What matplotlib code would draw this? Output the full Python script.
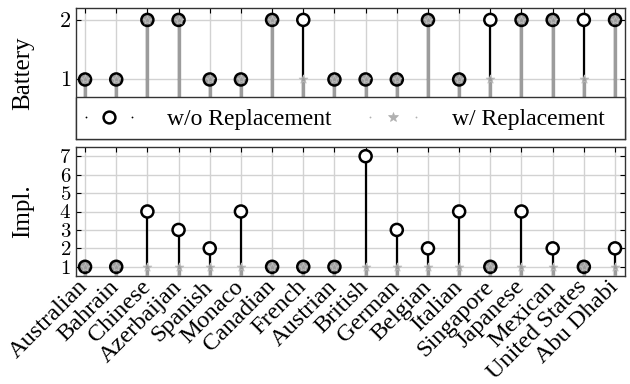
import matplotlib
matplotlib.use("Agg")
import matplotlib.pyplot as plt
import numpy as np
from matplotlib.lines import Line2D
from matplotlib.patches import Rectangle
from matplotlib.legend_handler import HandlerBase

categories = ["Australian", "Bahrain", "Chinese", "Azerbaijan", "Spanish", "Monaco",
              "Canadian", "French", "Austrian", "British", "German", "Belgian",
              "Italian", "Singapore", "Japanese", "Mexican", "United States", "Abu Dhabi"]
battery_wo = [1, 1, 2, 2, 1, 1, 2, 2, 1, 1, 1, 2, 1, 2, 2, 2, 2, 2]
battery_w  = [1, 1, 2, 2, 1, 1, 2, 1, 1, 1, 1, 2, 1, 1, 2, 2, 1, 2]
impl_wo = [1, 1, 4, 3, 2, 4, 1, 1, 1, 7, 3, 2, 4, 1, 4, 2, 1, 2]
impl_w  = [1] * 18
battery_ticks = [1, 2]
impl_ticks = [1, 2, 3, 4, 5, 6, 7]

plt.rcParams['font.family'] = ['Liberation Serif', 'DejaVu Serif']
plt.rcParams['mathtext.fontset'] = 'cm'

GRAY = '#9c9c9c'
GRID = '#d2d2d2'

fig = plt.figure(figsize=(6.3, 3.84), dpi=100)
ax1 = fig.add_axes([76/630, 1-139/384, 549/630, 131/384])
ax2 = fig.add_axes([76/630, 1-276/384, 549/630, 129/384])

x = np.arange(len(categories))


class DotHandler(HandlerBase):
    def __init__(self, dotcolor):
        super().__init__()
        self.dotcolor = dotcolor

    def create_artists(self, legend, orig_handle, xdescent, ydescent, width, height, fontsize, trans):
        y = height / 2 - ydescent
        dots = Line2D([-xdescent, -xdescent + width], [y, y], linestyle='none', marker='o',
                      markersize=1.3, markeredgewidth=0, markerfacecolor=self.dotcolor,
                      transform=trans)
        mk = Line2D([-xdescent + width / 2], [y], linestyle='none',
                    marker=orig_handle.get_marker(), markersize=orig_handle.get_markersize(),
                    markerfacecolor=orig_handle.get_markerfacecolor(),
                    markeredgecolor=orig_handle.get_markeredgecolor(),
                    markeredgewidth=orig_handle.get_markeredgewidth(), transform=trans)
        return [dots, mk]


def panel(ax, wo, w, ylim, yticks):
    wo = np.array(wo)
    w = np.array(w)
    bottom = ylim[0]
    ax.set_xlim(-0.29, len(categories) - 1 + 0.32)
    ax.set_ylim(*ylim)
    ax.set_yticks(yticks)
    ax.set_yticklabels([f"${t}$" for t in yticks])
    ax.set_xticks(x)
    ax.grid(True, color=GRID, linewidth=1.0, zorder=0)
    ax.set_axisbelow(True)
    ax.vlines(x, bottom, wo, color='black', linewidth=1.6, zorder=2)
    ax.vlines(x, bottom, w, color=GRAY, linewidth=2.4, zorder=3)
    face = np.where(wo == w, GRAY, 'white')
    ax.scatter(x, wo, s=75, marker='o', facecolors=face, edgecolors='black',
               linewidths=1.8, zorder=4)
    ax.scatter(x, w, s=42, marker='*', facecolors=GRAY, edgecolors='#bdbdbd',
               linewidths=0.6, zorder=5)
    ax.tick_params(direction='in', top=True, right=True, length=3.5, width=0.8,
                   labelsize=14, colors='black')
    for sp in ax.spines.values():
        sp.set_linewidth(1.0)
        sp.set_color('#333333')


panel(ax1, battery_wo, battery_w, (0, 2.2), battery_ticks)
panel(ax2, impl_wo, impl_w, (0.5, 7.5), impl_ticks)

ax1.set_xticklabels([])
ax2.set_xticklabels(categories, rotation=45, ha='right', va='center',
                    rotation_mode='anchor', fontsize=17.5)
ax2.tick_params(axis='x', pad=5.5)
for lab in ax2.get_yticklabels():
    lab.set_fontsize(15)
for lab in ax1.get_yticklabels():
    lab.set_fontsize(16)

ax1.set_ylabel("Battery", fontsize=18)
ax2.set_ylabel("Impl.", fontsize=18)
ax1.yaxis.set_label_coords(-0.076, 0.5)
ax2.yaxis.set_label_coords(-0.076, 0.5)

# legend box spanning the bottom of the upper panel
box_h = 0.32
ax1.add_patch(Rectangle((0, 0), 1, box_h, transform=ax1.transAxes, facecolor='white',
                        edgecolor='#333333', linewidth=1.0, zorder=9, clip_on=False))

h1 = Line2D([], [], marker='o', markersize=8.5, markerfacecolor='white',
            markeredgecolor='black', markeredgewidth=1.8, linestyle='none')
h2 = Line2D([], [], marker='*', markersize=7, markerfacecolor='#b0b0b0',
            markeredgecolor='#b0b0b0', markeredgewidth=0.5, linestyle='none')
leg = ax1.legend([h1, h2], ["w/o Replacement", "w/ Replacement"], ncol=2,
                 loc='center left', bbox_to_anchor=(10/549, box_h/2 - 0.01),
                 borderaxespad=0, borderpad=0, fontsize=17, frameon=False,
                 handlelength=1.95, handletextpad=1.5, columnspacing=1.62,
                 handler_map={h1: DotHandler('black'), h2: DotHandler('#b0b0b0')})
leg.set_zorder(10)

fig.savefig("out.png", dpi=100)
